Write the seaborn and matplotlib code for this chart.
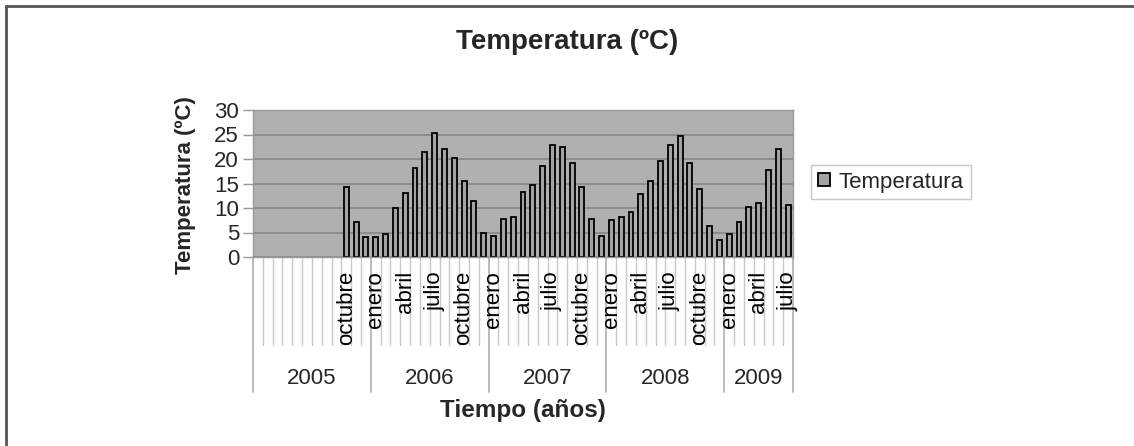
import matplotlib
matplotlib.use("Agg")
import matplotlib.pyplot as plt
from matplotlib.lines import Line2D
from matplotlib.patches import Patch
from matplotlib.transforms import blended_transform_factory
import seaborn as sns
import pandas as pd

# ---------------- data ----------------
years = [2005, 2006, 2007, 2008, 2009]
months_per_year = [12, 12, 12, 12, 7]
month_names = ["enero", "febrero", "marzo", "abril", "mayo", "junio", "julio",
               "agosto", "septiembre", "octubre", "noviembre", "diciembre"]
temp_2005 = [None] * 9 + [14.2, 7.1, 4.0]
temp_2006 = [4.0, 4.7, 10.0, 13.1, 18.1, 21.4, 25.3, 22.0, 20.3, 15.6, 11.4, 5.0]
temp_2007 = [4.3, 7.8, 8.2, 13.2, 14.6, 18.5, 22.8, 22.4, 19.2, 14.2, 7.8, 4.3]
temp_2008 = [7.5, 8.2, 9.2, 12.9, 15.6, 19.6, 22.8, 24.6, 19.2, 13.9, 6.4, 3.5]
temp_2009 = [4.6, 7.1, 10.3, 11.0, 17.8, 22.1, 10.7]
series_name = "Temperatura"
title = "Temperatura (ºC)"
ylabel = "Temperatura (ºC)"
xlabel = "Tiempo (años)"
yticks = [0, 5, 10, 15, 20, 25, 30]
label_every = 3

temps_by_year = [temp_2005, temp_2006, temp_2007, temp_2008, temp_2009]

# build category table
keys, values, mlabels = [], [], []
for y, n, vals in zip(years, months_per_year, temps_by_year):
    for m in range(n):
        keys.append(f"{y}-{m + 1:02d}")
        values.append(vals[m])
        show = (m % label_every == 0) and vals[m] is not None
        mlabels.append(month_names[m] if show else "")
df = pd.DataFrame({"cat": keys, "temp": values})
df_valid = df.dropna()
n_cat = len(keys)

# ---------------- style ----------------
sns.set_style("white")
plt.rcParams["font.family"] = ["Liberation Sans", "DejaVu Sans"]

W, H = 1134, 446
fig = plt.figure(figsize=(W / 100, H / 100), dpi=100)
ax_l, ax_r, ax_t, ax_b = 253, 793, 110, 257
ax = fig.add_axes([ax_l / W, 1 - ax_b / H, (ax_r - ax_l) / W, (ax_b - ax_t) / H])
ax_h = ax_b - ax_t

bg = "#b0b0b0"
ax.set_facecolor(bg)

sns.barplot(data=df_valid, x="cat", y="temp", order=keys, ax=ax,
            color="#a3a3a3", edgecolor="black", linewidth=1.3,
            width=0.5, saturation=1, errorbar=None)

ax.set_xlim(-0.5, n_cat - 0.5)
ax.set_ylim(yticks[0], yticks[-1])
ax.set_yticks(yticks)
ax.set_xticks([])
ax.set_xlabel("")
ax.set_ylabel("")
ax.yaxis.grid(True, color="#8a8a8a", linewidth=1.3)
ax.set_axisbelow(True)
ax.tick_params(axis="y", length=7, width=1, color="#999999", labelsize=16,
               left=True, pad=3)
for s in ax.spines.values():
    s.set_color("#999999")
    s.set_linewidth(1)

# ---------------- multi-level category axis ----------------
trans = blended_transform_factory(ax.transData, ax.transAxes)
tick_bottom = -(345 - ax_b) / ax_h
year_bottom = -(392 - ax_b) / ax_h
month_top = -(271 - ax_b) / ax_h
year_mid = -(378 - ax_b) / ax_h

year_edges = [0]
for n in months_per_year:
    year_edges.append(year_edges[-1] + n)

for b in range(n_cat + 1):
    xb = b - 0.5
    if b in year_edges:
        ax.plot([xb, xb], [0, year_bottom], transform=trans, clip_on=False,
                color="#b4b4b4", lw=1.3)
    else:
        ax.plot([xb, xb], [0, tick_bottom], transform=trans, clip_on=False,
                color="#c8c8c8", lw=1.0)

for i, lab in enumerate(mlabels):
    if lab:
        ax.text(i, month_top, lab, rotation=90, ha="center", va="top",
                transform=trans, fontsize=16, color="black")

for y, a, b in zip(years, year_edges[:-1], year_edges[1:]):
    ax.text((a + b - 1) / 2, year_mid, str(y), ha="center", va="center",
            transform=trans, fontsize=16)

ax.text(0.5, -(411 - ax_b) / ax_h, xlabel, transform=ax.transAxes,
        ha="center", va="center", fontsize=17.5, fontweight="bold")

# titles
fig.text(0.5, 1 - 42 / H, title, ha="center", va="center",
         fontsize=20, fontweight="bold")
fig.text(185 / W, 1 - 185 / H, ylabel, rotation=90, ha="center", va="center",
         fontsize=16, fontweight="bold")

# legend
handle = Patch(facecolor="#a3a3a3", edgecolor="black", linewidth=1.3)
leg = fig.legend([handle], [series_name], loc="center left",
                 bbox_to_anchor=(811 / W, 1 - 182 / H), fontsize=16,
                 frameon=True, fancybox=False, handlelength=0.55,
                 handleheight=0.55, handletextpad=0.4, borderpad=0.3,
                 borderaxespad=0)
leg.get_frame().set_edgecolor("#bbbbbb")
leg.get_frame().set_linewidth(1)

# outer chart border (top & left visible)
fig.add_artist(Line2D([6 / W, 1.0], [1 - 6 / H, 1 - 6 / H],
                      transform=fig.transFigure, color="#555555", lw=2))
fig.add_artist(Line2D([6 / W, 6 / W], [0, 1 - 6 / H],
                      transform=fig.transFigure, color="#555555", lw=2))

fig.savefig("out.png", dpi=100, facecolor="white")
